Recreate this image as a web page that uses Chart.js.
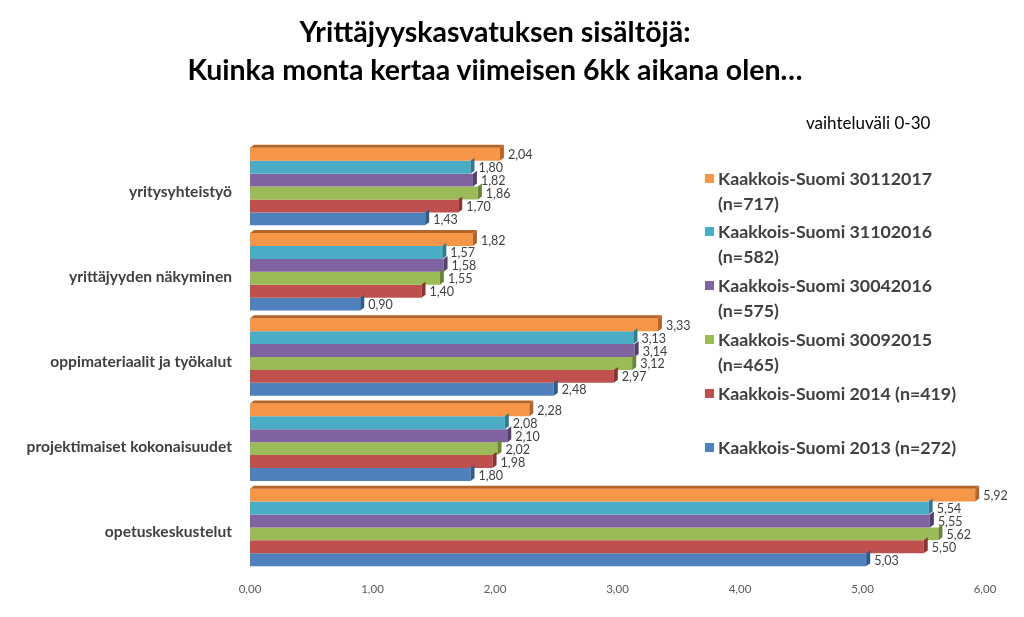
<!DOCTYPE html>
<html><head><meta charset="utf-8">
<script src="https://cdn.jsdelivr.net/npm/chart.js@4.4.0/dist/chart.umd.min.js"></script>
<style>
html,body{margin:0;padding:0;background:#fff;}
#wrap{position:relative;width:1024px;height:617px;font-family:Lato,"Noto Sans",sans-serif;}
#c{position:absolute;left:0;top:0;}
#title{position:absolute;left:0;width:990px;top:12px;text-align:center;font-weight:bold;font-size:28.5px;line-height:38px;color:#000;}
#sub{position:absolute;left:806px;top:112px;font-size:17px;color:#000;}
#legend{position:absolute;left:703px;top:166px;font-weight:bold;font-size:17.8px;color:#404040;line-height:25px;}
.li{position:absolute;left:0;white-space:nowrap;}
.sw{position:absolute;left:2px;top:8px;width:9px;height:9px;}
.tx{position:absolute;left:15px;top:0;}
</style></head>
<body><div id="wrap">
<canvas id="c" width="1024" height="617"></canvas>
<div id="title">Yrittäjyyskasvatuksen sisältöjä:<br>Kuinka monta kertaa viimeisen 6kk aikana olen…</div>
<div id="sub">vaihteluväli 0-30</div>
<div id="legend"></div>
</div>
<script>
const categories = ["yritysyhteistyö","yrittäjyyden näkyminen","oppimateriaalit ja työkalut","projektimaiset kokonaisuudet","opetuskeskustelut"];
const seriesNames = [
  ["Kaakkois-Suomi 30112017","(n=717)"],
  ["Kaakkois-Suomi 31102016","(n=582)"],
  ["Kaakkois-Suomi 30042016","(n=575)"],
  ["Kaakkois-Suomi 30092015","(n=465)"],
  ["Kaakkois-Suomi 2014 (n=419)"],
  ["Kaakkois-Suomi 2013 (n=272)"]
];
const s2017_11 = [2.04,1.82,3.33,2.28,5.92];
const s2016_10 = [1.80,1.57,3.13,2.08,5.54];
const s2016_04 = [1.82,1.58,3.14,2.10,5.55];
const s2015_09 = [1.86,1.55,3.12,2.02,5.62];
const s2014 = [1.70,1.40,2.97,1.98,5.50];
const s2013 = [1.43,0.90,2.48,1.80,5.03];
const xTicks = [0,1,2,3,4,5,6];

const seriesValues = [s2017_11,s2016_10,s2016_04,s2015_09,s2014,s2013];
const colors = ["#F79646","#4BACC6","#8064A2","#9BBB59","#C0504D","#4F81BD"];
const darks = ["#B5652A","#2E7A8F","#54406F","#6A8437","#8A3330","#2F5A8A"];
const legendTops = [0,53,107,161,215,269];

const lg = document.getElementById('legend');
seriesNames.forEach((n,i)=>{
  const d=document.createElement('div');d.className='li';d.style.top=legendTops[i]+'px';
  d.innerHTML='<div class="sw" style="background:'+colors[i]+'"></div><div class="tx">'+n.join('<br>')+'</div>';
  lg.appendChild(d);
});

const fmt = v => v.toFixed(2).replace('.',',');

const catLabels = {
  id:'catLabels',
  afterDraw(chart){
    const ctx=chart.ctx, ys=chart.scales.y;
    ctx.save();
    ctx.fillStyle='#404040';
    ctx.font='bold 15.6px Lato, "Noto Sans", sans-serif';
    ctx.textAlign='right';ctx.textBaseline='middle';
    chart.data.labels.forEach((l,i)=>{
      ctx.fillText(l, 232, ys.getPixelForTick(i)+5);
    });
    ctx.restore();
  }
};

const bar3d = {
  id:'bar3d',
  afterDatasetsDraw(chart){
    const ctx=chart.ctx;
    chart.data.datasets.forEach((ds,di)=>{
      const meta=chart.getDatasetMeta(di);
      meta.data.forEach((b,i)=>{
        const h=b.height, t=b.y-h/2, bt=b.y+h/2, x=b.x, base=b.base;
        const dx=4, dy=3;
        ctx.save();
        ctx.fillStyle=darks[di];
        ctx.beginPath();
        ctx.moveTo(x,t);ctx.lineTo(x+dx,t-dy);ctx.lineTo(x+dx,bt-dy);ctx.lineTo(x,bt);ctx.closePath();ctx.fill();
        if(di===0){
          ctx.fillStyle=darks[0];
          ctx.beginPath();
          ctx.moveTo(base,t);ctx.lineTo(base+dx,t-dy);ctx.lineTo(x+dx,t-dy);ctx.lineTo(x,t);ctx.closePath();ctx.fill();
        }
        ctx.fillStyle='#404040';
        ctx.font='12.5px Lato, "Noto Sans", sans-serif';
        ctx.textBaseline='middle';ctx.textAlign='left';
        ctx.fillText(fmt(ds.data[i]), x+dx+4, b.y+1);
        ctx.restore();
      });
    });
  }
};

new Chart(document.getElementById('c'),{
  type:'bar',
  data:{labels:categories,datasets:seriesValues.map((v,i)=>({label:seriesNames[i].join(' '),data:v,backgroundColor:colors[i],barPercentage:1.0,categoryPercentage:0.91}))},
  options:{
    indexAxis:'y',responsive:false,animation:false,
    layout:{padding:{top:144,right:39,left:0,bottom:0}},
    plugins:{legend:{display:false},tooltip:{enabled:false}},
    scales:{
      x:{min:0,max:6,grid:{display:false,drawTicks:false},border:{display:false},
        afterBuildTicks(s){s.ticks=xTicks.map(v=>({value:v}));},
        afterFit(s){s.height=47;},
        ticks:{padding:12,color:'#595959',font:{family:'Lato, "Noto Sans", sans-serif',size:11.5},callback:v=>fmt(v)}},
      y:{grid:{display:false,drawTicks:false},border:{display:false},
        afterFit(s){s.width=250;},
        ticks:{display:false}}
    }
  },
  plugins:[bar3d,catLabels]
});
</script>
</body></html>
